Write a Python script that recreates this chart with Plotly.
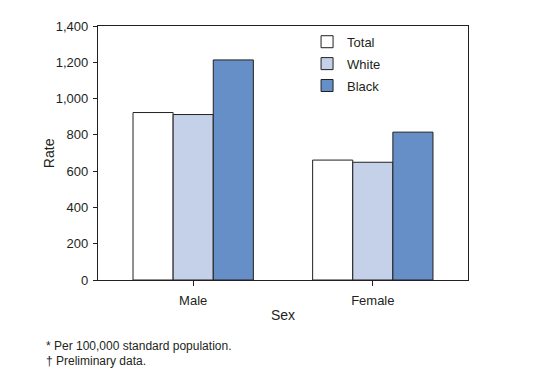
import plotly.graph_objects as go

categories = ["Male", "Female"]
series_names = ["Total", "White", "Black"]
total_vals = [923, 661]
white_vals = [912, 649]
black_vals = [1213, 815]
y_ticks = [0, 200, 400, 600, 800, 1000, 1200, 1400]
y_ticklabels = ["0", "200", "400", "600", "800", "1,000", "1,200", "1,400"]

colors = ["#FFFFFF", "#C5D1E8", "#678FC7"]
line_color = "#231F20"
font_family = "Liberation Sans, Arial, Helvetica, sans-serif"

fig = go.Figure()
for name, vals, col in zip(series_names, [total_vals, white_vals, black_vals], colors):
    fig.add_trace(go.Bar(
        x=categories, y=vals, name=name,
        marker=dict(color=col, line=dict(color=line_color, width=1)),
        legendgroup=name,
    ))

fig.update_layout(
    width=553, height=384,
    margin=dict(l=90, r=93, t=11, b=112),
    paper_bgcolor="white", plot_bgcolor="white",
    font=dict(family=font_family, size=13, color=line_color),
    barmode="group", bargap=0.33, bargroupgap=0,
    showlegend=True,
    legend=dict(x=0.565, y=0.997, xanchor="left", yanchor="top",
                bgcolor="rgba(0,0,0,0)", font=dict(size=13),
                tracegroupgap=2, itemwidth=30),
    xaxis=dict(
        type="category", range=[-0.53, 1.53],
        showline=True, linecolor=line_color, linewidth=1.2, mirror=True,
        ticks="outside", ticklen=5, tickcolor=line_color, tickwidth=1,
        tickfont=dict(size=13), ticklabelstandoff=3,
        title=dict(text="Sex", font=dict(size=14), standoff=3),
    ),
    yaxis=dict(
        range=[0, 1400], tickvals=y_ticks, ticktext=y_ticklabels,
        showline=True, linecolor=line_color, linewidth=1.2, mirror=True,
        showgrid=False, zeroline=False,
        ticks="outside", ticklen=4, tickcolor=line_color, tickwidth=1,
        tickfont=dict(size=13), ticklabelstandoff=2,
    ),
)

fig.add_annotation(text="Rate", xref="paper", yref="paper",
                   x=-0.132, y=0.5, xanchor="center", yanchor="middle",
                   textangle=-90, showarrow=False, font=dict(size=14))
fig.add_annotation(text="* Per 100,000 standard population.", xref="paper", yref="paper",
                   x=-0.145, y=-0.258, xanchor="left", yanchor="middle",
                   showarrow=False, font=dict(size=12))
fig.add_annotation(text="† Preliminary data.", xref="paper", yref="paper",
                   x=-0.145, y=-0.318, xanchor="left", yanchor="middle",
                   showarrow=False, font=dict(size=12))

fig.write_html("out.html")
